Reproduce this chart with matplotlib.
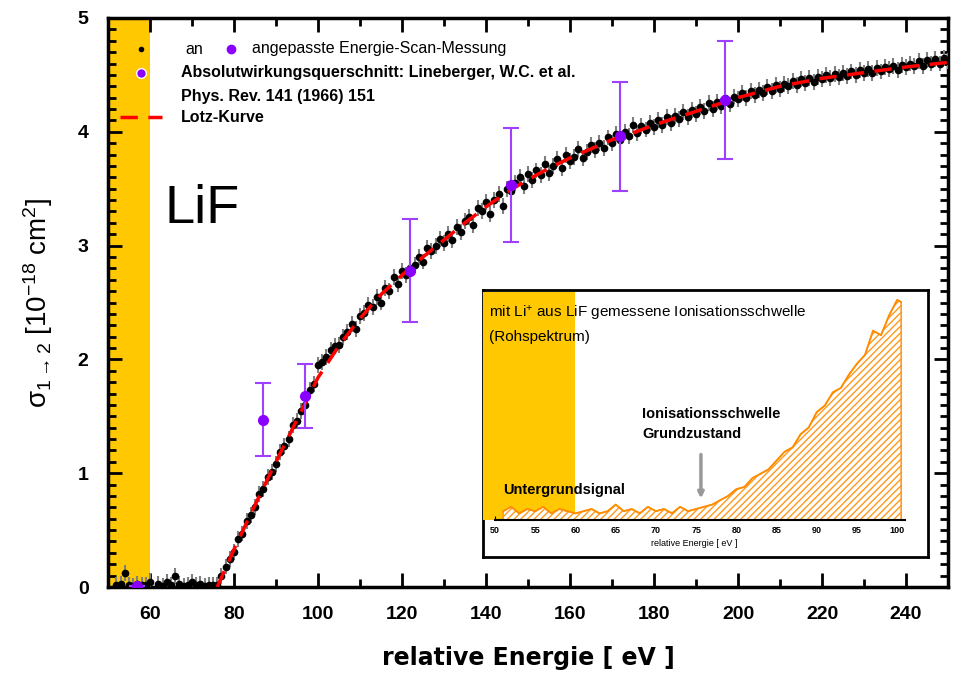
import matplotlib
matplotlib.use('Agg')
import matplotlib.pyplot as plt
from matplotlib.ticker import MultipleLocator, FixedLocator

plt.rcParams['font.family'] = ['Liberation Sans', 'DejaVu Sans']
plt.rcParams['mathtext.fontset'] = 'custom'
plt.rcParams['mathtext.rm'] = 'Liberation Sans'
plt.rcParams['mathtext.it'] = 'Liberation Sans'
plt.rcParams['mathtext.bf'] = 'Liberation Sans:bold'

# energy scan (black points)
scan_x = list(range(52, 61)) + list(range(62, 76)) + list(range(76, 251))
scan_y = [0.02, 0.03, 0.12, 0.02, 0.01, 0.03, 0.02, 0.02, 0.04,
          0.03, 0.01, 0.04, 0.02, 0.10, 0.03, 0.01, 0.02, 0.04, 0.02, 0.03, 0.01, 0.02, 0.02,
          0.02, 0.10, 0.18, 0.25, 0.31, 0.42, 0.47, 0.58, 0.63, 0.70,
          0.82, 0.86, 0.97, 1.01, 1.08, 1.19, 1.24, 1.30, 1.42, 1.46,
          1.55, 1.60, 1.73, 1.78, 1.95, 1.98, 2.02, 2.08, 2.12, 2.13,
          2.20, 2.24, 2.31, 2.27, 2.38, 2.41, 2.48, 2.46, 2.55, 2.50,
          2.63, 2.60, 2.72, 2.66, 2.78, 2.74, 2.80, 2.83, 2.90, 2.86,
          2.98, 2.95, 3.00, 3.06, 3.02, 3.10, 3.05, 3.16, 3.12, 3.22,
          3.25, 3.18, 3.33, 3.30, 3.38, 3.28, 3.40, 3.45, 3.35, 3.50,
          3.48, 3.55, 3.60, 3.52, 3.63, 3.58, 3.66, 3.62, 3.72, 3.64,
          3.70, 3.76, 3.68, 3.80, 3.74, 3.78, 3.85, 3.77, 3.82, 3.88,
          3.84, 3.90, 3.86, 3.95, 3.90, 3.98, 3.93, 4.00, 3.96, 4.06,
          3.99, 4.05, 4.02, 4.08, 4.04, 4.10, 4.06, 4.13, 4.08, 4.14,
          4.11, 4.17, 4.13, 4.19, 4.16, 4.22, 4.18, 4.25, 4.20, 4.26,
          4.23, 4.30, 4.24, 4.31, 4.29, 4.34, 4.30, 4.36, 4.32, 4.37,
          4.34, 4.39, 4.36, 4.41, 4.38, 4.42, 4.40, 4.45, 4.41, 4.46,
          4.43, 4.47, 4.44, 4.48, 4.46, 4.50, 4.47, 4.51, 4.48, 4.52,
          4.49, 4.53, 4.50, 4.54, 4.52, 4.55, 4.52, 4.56, 4.53, 4.57,
          4.55, 4.58, 4.54, 4.59, 4.57, 4.60, 4.58, 4.62, 4.58, 4.63,
          4.60, 4.64, 4.60, 4.65, 4.62]
scan_err = 0.07

# absolute cross section (Lineberger et al.)
abs_x = [57, 87, 97, 122, 146, 172, 197]
abs_y = [0.01, 1.47, 1.68, 2.78, 3.53, 3.96, 4.28]
abs_err = [0.0, 0.32, 0.28, 0.45, 0.50, 0.48, 0.52]

# Lotz curve
lotz_x = [76, 80, 85, 90, 95, 100, 105, 110, 115, 120, 125, 130, 135, 140, 145,
          150, 155, 160, 165, 170, 175, 180, 185, 190, 195, 200, 210, 220, 230, 240, 250]
lotz_y = [0.0, 0.33, 0.72, 1.10, 1.47, 1.84, 2.12, 2.36, 2.57, 2.74, 2.90, 3.05, 3.20, 3.34, 3.47,
          3.58, 3.68, 3.77, 3.85, 3.93, 3.99, 4.06, 4.12, 4.18, 4.24, 4.30, 4.40, 4.47, 4.52, 4.57, 4.61]

# inset: raw spectrum
raw_x = [51, 52, 53, 54, 55, 56, 57, 58, 59, 60, 61, 62, 63, 64, 65, 66, 67, 68, 69, 70,
         71, 72, 73, 74, 75, 76, 77, 78, 79, 80, 81, 82, 83, 84, 85, 86, 87, 88, 89, 90,
         91, 92, 93, 94, 95, 96, 97, 98, 99, 100, 100.5]
raw_y = [0.04, 0.06, 0.03, 0.05, 0.04, 0.06, 0.03, 0.05, 0.04, 0.03, 0.04, 0.05, 0.03, 0.04, 0.07, 0.04, 0.05, 0.03, 0.06, 0.04,
         0.05, 0.03, 0.06, 0.04, 0.05, 0.06, 0.07, 0.09, 0.11, 0.14, 0.15, 0.19, 0.21, 0.23, 0.27, 0.31, 0.33, 0.39, 0.42, 0.49,
         0.52, 0.58, 0.60, 0.66, 0.71, 0.75, 0.86, 0.84, 0.93, 1.00, 0.99]
inset_ticks = [50, 55, 60, 65, 70, 75, 80, 85, 90, 95, 100]

YELLOW = '#FFC800'
PURPLE = '#8A00FF'

fig = plt.figure(figsize=(9.55, 6.75), dpi=100)
W, H = 955, 675
ax = fig.add_axes([108 / W, 1 - 587 / H, 840 / W, 569 / H])

ax.axvspan(50, 60, color=YELLOW, lw=0, zorder=0)
ax.errorbar(scan_x, scan_y, yerr=scan_err, fmt='o', ms=4.5, color='black',
            ecolor='#808080', elinewidth=1.5, capsize=0, zorder=3)
ax.plot(lotz_x, lotz_y, color='red', lw=2.5, dashes=(5, 3), zorder=4)
ax.errorbar(abs_x, abs_y, yerr=abs_err, fmt='o', ms=7, color=PURPLE,
            ecolor='#A040FF', elinewidth=1.5, capsize=6, capthick=1.5, zorder=5)

ax.set_xlim(50, 250)
ax.set_ylim(0, 5)
ax.xaxis.set_major_locator(MultipleLocator(20))
ax.xaxis.set_minor_locator(MultipleLocator(10))
ax.yaxis.set_major_locator(MultipleLocator(1))
ax.yaxis.set_minor_locator(MultipleLocator(0.1))
ax.set_xticks(range(60, 250, 20))
ax.tick_params(which='both', direction='in', top=True, right=True, width=2)
ax.tick_params(which='major', length=10, labelsize=14, pad=14)
ax.tick_params(which='minor', length=6)
for lab in ax.get_xticklabels() + ax.get_yticklabels():
    lab.set_fontweight('bold')
for sp in ax.spines.values():
    sp.set_linewidth(2.5)

ax.set_xlabel('relative Energie [ eV ]', fontsize=17, fontweight='bold',
              family='DejaVu Sans', labelpad=16)
ax.set_ylabel(r'$\mathregular{\sigma_{1\rightarrow2}}$ [10$^{-18}$ cm$^2$]', fontsize=20, labelpad=16)

ax.text(63.5, 3.2, 'LiF', fontsize=39)

# legend
lt = ax.transAxes
def ly(py):
    return (587 - py) / 569
def lx(px):
    return (px - 108) / 840
ax.plot([lx(141)], [ly(49)], 'o', ms=3, color='black', transform=lt)
ax.plot([lx(231)], [ly(49)], 'o', ms=6, color=PURPLE, transform=lt)
ax.plot([lx(141)], [ly(73)], 'o', ms=7, color=PURPLE, mec='white', transform=lt)
ax.plot([lx(120), lx(162)], [ly(117), ly(117)], color='red', lw=2.5, dashes=(5, 3), transform=lt)
fs = 11.5
ax.text(lx(185), ly(49), 'an', fontsize=fs, va='center', transform=lt)
ax.text(lx(252), ly(49), 'angepasste Energie-Scan-Messung', fontsize=fs, va='center', transform=lt)
ax.text(lx(181), ly(73), 'Absolutwirkungsquerschnitt: Lineberger, W.C. et al.', fontsize=fs,
        fontweight='bold', va='center', transform=lt)
ax.text(lx(181), ly(96), 'Phys. Rev. 141 (1966) 151', fontsize=fs, fontweight='bold', va='center', transform=lt)
ax.text(lx(181), ly(118), 'Lotz-Kurve', fontsize=fs, fontweight='bold', va='center', transform=lt)

# inset frame
frame = fig.add_axes([483 / W, 1 - 557 / H, 445 / W, 267 / H])
frame.set_xticks([])
frame.set_yticks([])
frame.set_facecolor('white')
for sp in frame.spines.values():
    sp.set_linewidth(2)
frame.set_zorder(6)

ins = fig.add_axes([483 / W, 1 - 520 / H, 423 / W, 228 / H])
ins.set_zorder(7)
ins.patch.set_alpha(0)
ins.set_xlim(48.5, 101.1)
ins.set_ylim(0, 1.036)
ins.axvspan(48.5, 60, color=YELLOW, lw=0, zorder=0)
ins.fill_between(raw_x, 0, raw_y, facecolor='white', edgecolor='#FF9A1E',
                 hatch='/////', lw=1.2, zorder=2)
ins.plot(raw_x, raw_y, color='#FF8C00', lw=1.2, zorder=3)
for s in ['top', 'right', 'left']:
    ins.spines[s].set_visible(False)
ins.spines['bottom'].set_bounds(50, 101)
ins.spines['bottom'].set_linewidth(1.5)
ins.set_yticks([])
ins.xaxis.set_major_locator(FixedLocator(inset_ticks))
ins.tick_params(axis='x', direction='in', length=3, labelsize=6.5, pad=4)
for lab in ins.get_xticklabels():
    lab.set_fontweight('bold')
ins.set_xlabel('relative Energie [ eV ]', fontsize=6.5, labelpad=3)

ifs = 10.5
ins.text(49.2, 0.94, 'mit Li$^{+}$ aus LiF gemessene Ionisationsschwelle', fontsize=ifs + 0.5, va='center')
ins.text(49.2, 0.83, '(Rohspektrum)', fontsize=ifs + 0.5, va='center')
ins.text(68.3, 0.48, 'Ionisationsschwelle', fontsize=ifs, fontweight='bold', va='center')
ins.text(68.3, 0.39, 'Grundzustand', fontsize=ifs, fontweight='bold', va='center')
ins.text(51.0, 0.135, 'Untergrundsignal', fontsize=ifs, fontweight='bold', va='center')
ins.annotate('', xy=(75.6, 0.085), xytext=(75.6, 0.31),
             arrowprops=dict(arrowstyle='-|>', color='#999999', lw=2.5, mutation_scale=8))

fig.savefig('out.png', dpi=100)
